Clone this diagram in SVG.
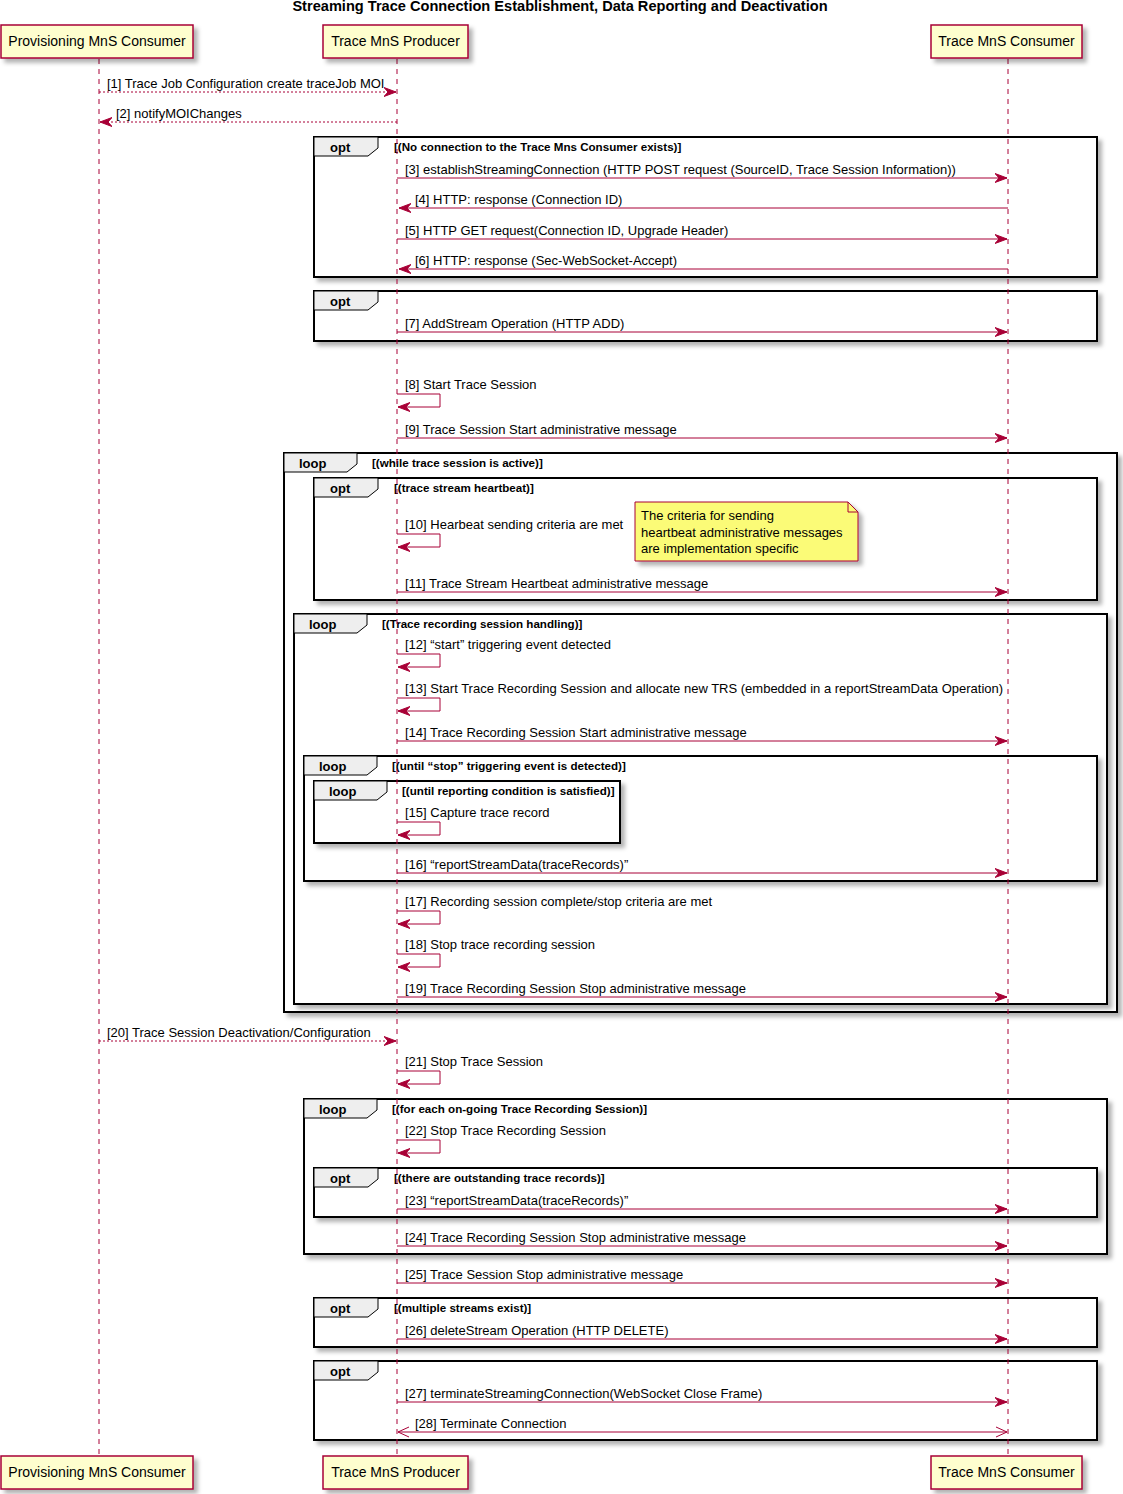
<svg xmlns="http://www.w3.org/2000/svg" width="1123" height="1494" viewBox="0 0 1123 1494">
<style>
.bg{fill:#FFFFFF}
.life{stroke:#A80036;stroke-width:1;stroke-dasharray:5,5;fill:none}
.pbox{fill:#FEFECE;stroke:#A80036;stroke-width:1.5;filter:url(#sh)}
.ptxt{font-family:"Liberation Sans",Arial,sans-serif;font-size:14px;fill:#000;text-anchor:middle}
.title{font-family:"Liberation Sans",Arial,sans-serif;font-size:14.6px;font-weight:bold;fill:#000;text-anchor:middle}
.msg{stroke:#A80036;stroke-width:1;fill:none;marker-end:url(#ah)}
.dash{stroke-dasharray:2,2}
.mtxt{font-family:"Liberation Sans",Arial,sans-serif;font-size:13px;fill:#000}
.frame{fill:#FFFFFF;stroke:#000;stroke-width:2;filter:url(#sh)}
.tab{fill:#EEEEEE;stroke:#000;stroke-width:1}
.ftxt{font-family:"Liberation Sans",Arial,sans-serif;font-size:13px;font-weight:bold;fill:#000}
.ctxt{font-family:"Liberation Sans",Arial,sans-serif;font-size:11.6px;font-weight:bold;fill:#000}
.note{fill:#FBFB77;stroke:#A80036;stroke-width:1;filter:url(#sh)}
.fold{fill:none;stroke:#A80036;stroke-width:1}
</style>
<defs>
<filter id="sh" x="-5%" y="-5%" width="115%" height="130%">
<feDropShadow dx="4" dy="4" stdDeviation="2" flood-color="#000" flood-opacity="0.3"/>
</filter>
<marker id="ah" markerUnits="userSpaceOnUse" markerWidth="12" markerHeight="10" viewBox="0 0 12 10" refX="12" refY="5" orient="auto">
<path d="M0,0.5 L12,5 L0,9.5 L4,5 Z" fill="#A80036" stroke="#A80036" stroke-width="1"/>
</marker>
<marker id="oa" markerUnits="userSpaceOnUse" markerWidth="13" markerHeight="12" viewBox="0 0 13 12" refX="12" refY="6" orient="auto-start-reverse">
<path d="M1,1 L12,6 L1,11" fill="none" stroke="#A80036" stroke-width="1"/>
</marker>
</defs>
<rect class="bg" x="0" y="0" width="1123" height="1494"/>
<text class="title" x="560" y="11">Streaming Trace Connection Establishment, Data Reporting and Deactivation</text>

<g id="frames">
<g id="f1"><rect class="frame" x="314" y="137" width="783" height="140"/><path class="tab" d="M314,137 H378 V148 L368,156 H314 Z"/><text class="ftxt" x="330" y="152">opt</text><text class="ctxt" x="394" y="151">[(No connection to the Trace Mns Consumer exists)]</text></g>
<g id="f2"><rect class="frame" x="314" y="291" width="783" height="50"/><path class="tab" d="M314,291 H378 V302 L368,310 H314 Z"/><text class="ftxt" x="330" y="306">opt</text></g>
<g id="f3"><rect class="frame" x="284" y="453" width="833" height="559"/><path class="tab" d="M284,453 H357 V464 L347,472 H284 Z"/><text class="ftxt" x="299" y="468">loop</text><text class="ctxt" x="372" y="467">[(while trace session is active)]</text></g>
<g id="f4"><rect class="frame" x="314" y="478" width="783" height="122"/><path class="tab" d="M314,478 H378 V489 L368,497 H314 Z"/><text class="ftxt" x="330" y="493">opt</text><text class="ctxt" x="394" y="492">[(trace stream heartbeat)]</text></g>
<g id="f5"><rect class="frame" x="294" y="614" width="813" height="390"/><path class="tab" d="M294,614 H367 V625 L357,633 H294 Z"/><text class="ftxt" x="309" y="629">loop</text><text class="ctxt" x="382" y="628">[(Trace recording session handling)]</text></g>
<g id="f6"><rect class="frame" x="304" y="756" width="793" height="125"/><path class="tab" d="M304,756 H377 V767 L367,775 H304 Z"/><text class="ftxt" x="319" y="771">loop</text><text class="ctxt" x="392" y="770">[(until “stop” triggering event is detected)]</text></g>
<g id="f7"><rect class="frame" x="314" y="781" width="306" height="62"/><path class="tab" d="M314,781 H387 V792 L377,800 H314 Z"/><text class="ftxt" x="329" y="796">loop</text><text class="ctxt" x="402" y="795">[(until reporting condition is satisfied)]</text></g>
<g id="f8"><rect class="frame" x="304" y="1099" width="803" height="155"/><path class="tab" d="M304,1099 H377 V1110 L367,1118 H304 Z"/><text class="ftxt" x="319" y="1114">loop</text><text class="ctxt" x="392" y="1113">[(for each on-going Trace Recording Session)]</text></g>
<g id="f9"><rect class="frame" x="314" y="1168" width="783" height="49"/><path class="tab" d="M314,1168 H378 V1179 L368,1187 H314 Z"/><text class="ftxt" x="330" y="1183">opt</text><text class="ctxt" x="394" y="1182">[(there are outstanding trace records)]</text></g>
<g id="f10"><rect class="frame" x="314" y="1298" width="783" height="49"/><path class="tab" d="M314,1298 H378 V1309 L368,1317 H314 Z"/><text class="ftxt" x="330" y="1313">opt</text><text class="ctxt" x="394" y="1312">[(multiple streams exist)]</text></g>
<g id="f11"><rect class="frame" x="314" y="1361" width="783" height="79"/><path class="tab" d="M314,1361 H378 V1372 L368,1380 H314 Z"/><text class="ftxt" x="330" y="1376">opt</text></g>
</g>

<g id="lifelines">
<line class="life" x1="99" y1="59" x2="99" y2="1456"/>
<line class="life" x1="397" y1="59" x2="397" y2="1456"/>
<line class="life" x1="1008" y1="59" x2="1008" y2="1456"/>
</g>

<g id="connectors">
<path class="msg dash" d="M99,92 H396"/>
<text class="mtxt" x="107" y="88">[1] Trace Job Configuration create traceJob MOI</text>
<path class="msg dash" d="M397,122 H100"/>
<text class="mtxt" x="116" y="118">[2] notifyMOIChanges</text>
<path class="msg" d="M397,178 H1007"/>
<text class="mtxt" x="405" y="174">[3] establishStreamingConnection (HTTP POST request (SourceID, Trace Session Information))</text>
<path class="msg" d="M1008,208 H399"/>
<text class="mtxt" x="415" y="204">[4] HTTP: response (Connection ID)</text>
<path class="msg" d="M397,239 H1007"/>
<text class="mtxt" x="405" y="235">[5] HTTP GET request(Connection ID, Upgrade Header)</text>
<path class="msg" d="M1008,269 H399"/>
<text class="mtxt" x="415" y="265">[6] HTTP: response (Sec-WebSocket-Accept)</text>
<path class="msg" d="M397,332 H1007"/>
<text class="mtxt" x="405" y="328">[7] AddStream Operation (HTTP ADD)</text>
<path class="msg" d="M397,394 H440 V407 H398"/>
<text class="mtxt" x="405" y="389">[8] Start Trace Session</text>
<path class="msg" d="M397,438 H1007"/>
<text class="mtxt" x="405" y="434">[9] Trace Session Start administrative message</text>
<path class="msg" d="M397,534 H440 V547 H398"/>
<text class="mtxt" x="405" y="529">[10] Hearbeat sending criteria are met</text>
<path class="msg" d="M397,592 H1007"/>
<text class="mtxt" x="405" y="588">[11] Trace Stream Heartbeat administrative message</text>
<path class="msg" d="M397,654 H440 V667 H398"/>
<text class="mtxt" x="405" y="649">[12] “start” triggering event detected</text>
<path class="msg" d="M397,698 H440 V711 H398"/>
<text class="mtxt" x="405" y="693">[13] Start Trace Recording Session and allocate new TRS (embedded in a reportStreamData Operation)</text>
<path class="msg" d="M397,741 H1007"/>
<text class="mtxt" x="405" y="737">[14] Trace Recording Session Start administrative message</text>
<path class="msg" d="M397,822 H440 V835 H398"/>
<text class="mtxt" x="405" y="817">[15] Capture trace record</text>
<path class="msg" d="M397,873 H1007"/>
<text class="mtxt" x="405" y="869">[16] “reportStreamData(traceRecords)”</text>
<path class="msg" d="M397,911 H440 V924 H398"/>
<text class="mtxt" x="405" y="906">[17] Recording session complete/stop criteria are met</text>
<path class="msg" d="M397,954 H440 V967 H398"/>
<text class="mtxt" x="405" y="949">[18] Stop trace recording session</text>
<path class="msg" d="M397,997 H1007"/>
<text class="mtxt" x="405" y="993">[19] Trace Recording Session Stop administrative message</text>
<path class="msg dash" d="M99,1041 H396"/>
<text class="mtxt" x="107" y="1037">[20] Trace Session Deactivation/Configuration</text>
<path class="msg" d="M397,1071 H440 V1084 H398"/>
<text class="mtxt" x="405" y="1066">[21] Stop Trace Session</text>
<path class="msg" d="M397,1140 H440 V1153 H398"/>
<text class="mtxt" x="405" y="1135">[22] Stop Trace Recording Session</text>
<path class="msg" d="M397,1209 H1007"/>
<text class="mtxt" x="405" y="1205">[23] “reportStreamData(traceRecords)”</text>
<path class="msg" d="M397,1246 H1007"/>
<text class="mtxt" x="405" y="1242">[24] Trace Recording Session Stop administrative message</text>
<path class="msg" d="M397,1283 H1007"/>
<text class="mtxt" x="405" y="1279">[25] Trace Session Stop administrative message</text>
<path class="msg" d="M397,1339 H1007"/>
<text class="mtxt" x="405" y="1335">[26] deleteStream Operation (HTTP DELETE)</text>
<path class="msg" d="M397,1402 H1007"/>
<text class="mtxt" x="405" y="1398">[27] terminateStreamingConnection(WebSocket Close Frame)</text>
<path d="M398,1432 H1007" stroke="#A80036" stroke-width="1" fill="none" marker-start="url(#oa)" marker-end="url(#oa)"/>
<text class="mtxt" x="415" y="1428">[28] Terminate Connection</text>
</g>

<g id="note1">
<path class="note" d="M635,502 H848 L858,512 V561 H635 Z"/>
<path class="fold" d="M848,502 V512 H858"/>
<text class="mtxt" x="641" y="520">The criteria for sending</text>
<text class="mtxt" x="641" y="537">heartbeat administrative messages</text>
<text class="mtxt" x="641" y="553">are implementation specific</text>
</g>

<g id="p-prov-top"><rect class="pbox" x="1" y="25" width="192" height="33"/><text class="ptxt" x="97" y="46">Provisioning MnS Consumer</text></g>
<g id="p-prod-top"><rect class="pbox" x="323" y="25" width="145" height="33"/><text class="ptxt" x="395.5" y="46">Trace MnS Producer</text></g>
<g id="p-cons-top"><rect class="pbox" x="931" y="25" width="151" height="33"/><text class="ptxt" x="1006.5" y="46">Trace MnS Consumer</text></g>
<g id="p-prov-bot"><rect class="pbox" x="1" y="1456" width="192" height="33"/><text class="ptxt" x="97" y="1477">Provisioning MnS Consumer</text></g>
<g id="p-prod-bot"><rect class="pbox" x="323" y="1456" width="145" height="33"/><text class="ptxt" x="395.5" y="1477">Trace MnS Producer</text></g>
<g id="p-cons-bot"><rect class="pbox" x="931" y="1456" width="151" height="33"/><text class="ptxt" x="1006.5" y="1477">Trace MnS Consumer</text></g>
</svg>
